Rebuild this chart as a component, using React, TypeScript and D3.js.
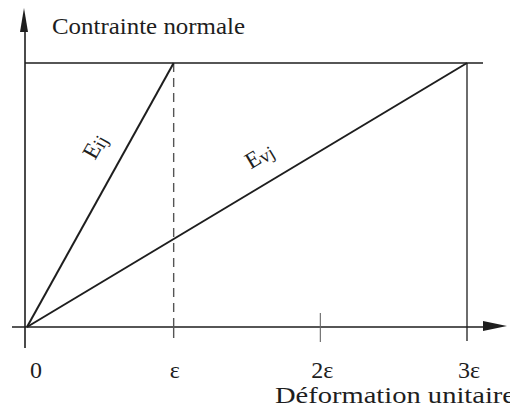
import React from "react";
import * as d3 from "d3";

// Strain in multiples of epsilon, and normalised stress
const strainTicks = [0, 1, 2, 3];
const tickLabels = ["0", "ε", "2ε", "3ε"];
const stressLevel = [0, 1];
const instantStrain = [0, 1];   // E_ij : instantaneous modulus
const deferredStrain = [0, 3];  // E_vj : deferred modulus (E_ij / 3)

const W = 510;
const H = 414;
const INK = "#1e1e1e";
const FONT = "Liberation Serif, serif";

export default function App() {
  const x = d3.scaleLinear().domain([0, 3]).range([27, 467]);
  const y = d3.scaleLinear().domain([0, 1]).range([327, 63]);

  const line = d3
    .line<[number, number]>()
    .x((d) => x(d[0]))
    .y((d) => y(d[1]));

  const eij: [number, number][] = instantStrain.map((s, i) => [s, stressLevel[i]]);
  const evj: [number, number][] = deferredStrain.map((s, i) => [s, stressLevel[i]]);

  const angle = (pts: [number, number][]) =>
    (Math.atan2(y(pts[1][1]) - y(pts[0][1]), x(pts[1][0]) - x(pts[0][0])) * 180) / Math.PI;

  const axisX0 = x(0) - 15;
  const axisX1 = W - 3;
  const axisY = y(0);
  const yAxisX = x(0) - 2;

  return (
    <svg
      width={W}
      height={H}
      style={{ position: "absolute", left: 0, top: 0, background: "#fff" }}
      fontFamily={FONT}
    >
      {/* horizontal axis with arrow */}
      <line x1={axisX0} y1={axisY} x2={axisX1 - 20} y2={axisY} stroke={INK} strokeWidth={1.6} />
      <path
        d={`M${axisX1},${axisY - 1} L${axisX1 - 24},${axisY - 6} L${axisX1 - 24},${axisY + 4} Z`}
        fill={INK}
      />
      {/* vertical axis with arrow */}
      <line x1={yAxisX} y1={y(0) + 21} x2={yAxisX} y2={28} stroke={INK} strokeWidth={1.6} />
      <path d={`M${yAxisX - 1},8 L${yAxisX - 5},32 L${yAxisX + 3},32 Z`} fill={INK} />

      {/* stress level */}
      <line x1={yAxisX} y1={y(1)} x2={x(3) + 16} y2={y(1)} stroke={INK} strokeWidth={1.3} />

      {/* strain marker at epsilon (dashed) */}
      <line
        x1={x(1)}
        y1={y(1)}
        x2={x(1)}
        y2={y(0)}
        stroke="#555"
        strokeWidth={1.4}
        strokeDasharray="9 6"
      />
      <line x1={x(1)} y1={y(0)} x2={x(1)} y2={y(0) + 11} stroke="#555" strokeWidth={1.4} />
      {/* tick at 2 epsilon */}
      <line x1={x(2)} y1={y(0) - 14} x2={x(2)} y2={y(0) + 15} stroke="#666" strokeWidth={1.1} />
      {/* strain marker at 3 epsilon */}
      <line x1={x(3)} y1={y(1)} x2={x(3)} y2={y(0) + 14} stroke={INK} strokeWidth={1.3} />

      {/* modulus lines */}
      <path d={line(eij) ?? ""} fill="none" stroke={INK} strokeWidth={2} />
      <path d={line(evj) ?? ""} fill="none" stroke={INK} strokeWidth={2} />

      {/* modulus labels */}
      <text
        transform={`translate(101,150) rotate(${angle(eij)})`}
        fontSize={23}
        fill={INK}
        textAnchor="middle"
      >
        E<tspan fontSize={19} dy={2}>ij</tspan>
      </text>
      <text
        transform={`translate(263,162) rotate(${angle(evj)})`}
        fontSize={23}
        fill={INK}
        textAnchor="middle"
      >
        E<tspan fontSize={19} dy={2}>vj</tspan>
      </text>

      {/* tick labels */}
      {strainTicks.map((t, i) => (
        <text
          key={t}
          x={x(t) + (i === 0 ? 9 : i === 1 ? 1 : 2)}
          y={378}
          fontSize={24}
          fill={INK}
          textAnchor="middle"
        >
          {tickLabels[i]}
        </text>
      ))}

      {/* axis titles */}
      <text x={52} y={34} fontSize={24} fill={INK} textLength={193} lengthAdjust="spacingAndGlyphs">
        Contrainte normale
      </text>
      <text x={275} y={403} fontSize={24} fill={INK} textLength={240} lengthAdjust="spacingAndGlyphs">
        Déformation unitaire
      </text>
    </svg>
  );
}
